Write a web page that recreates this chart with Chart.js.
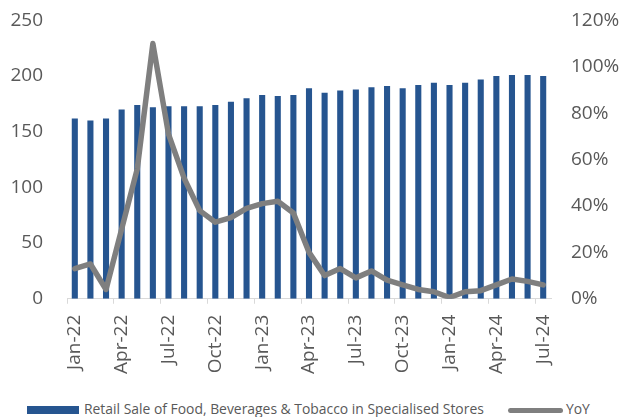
<!DOCTYPE html>
<html>
<head>
<meta charset="utf-8">
<script src="https://cdn.jsdelivr.net/npm/chart.js@4"></script>
<style>
  body { margin: 0; background: #fff; }
  .wrap { position: relative; width: 619px; height: 417px; overflow: hidden; }
  .chart-box { position: absolute; left: 0; top: -7px; width: 619px; height: 396px; }
  .legend { position: absolute; left: 0; top: 401px; width: 619px; height: 16px;
    font-family: 'Open Sans', sans-serif; font-size: 13.9px; color: #595959; white-space: nowrap; }
  .legend .item { position: absolute; top: 0; line-height: 16px; }
  .legend .swatch { position: absolute; }
</style>
</head>
<body>
<div class="wrap">
  <div class="chart-box"><canvas id="salesChart"></canvas></div>
  <div class="legend" id="legend"></div>
</div>
<script>
const months = ['Jan-22', 'Feb-22', 'Mar-22', 'Apr-22', 'May-22', 'Jun-22', 'Jul-22', 'Aug-22', 'Sep-22', 'Oct-22', 'Nov-22', 'Dec-22',
    'Jan-23', 'Feb-23', 'Mar-23', 'Apr-23', 'May-23', 'Jun-23', 'Jul-23', 'Aug-23', 'Sep-23', 'Oct-23', 'Nov-23', 'Dec-23',
    'Jan-24', 'Feb-24', 'Mar-24', 'Apr-24', 'May-24', 'Jun-24', 'Jul-24'];

const salesIndex = [162, 160, 162, 170, 174, 172, 173, 173, 173, 174, 177, 180,
    183, 182, 183, 189, 185, 187, 188, 190, 191, 189, 192, 194,
    192, 194, 197, 200, 201, 201, 200];

const yoyPct = [13, 15, 4, 30, 56, 110, 71, 52, 38, 33, 35, 39,
    41, 42, 37, 20, 10, 13, 9, 12, 8, 6, 4, 3,
    0.5, 3, 3.5, 6, 8.5, 7.5, 6];

const salesLabel = 'Retail Sale of Food, Beverages & Tobacco in Specialised Stores';
const yoyLabel = 'YoY';

const barColor = '#265590';
const lineColor = '#7f7f7f';
const textColor = '#595959';

const tickFont = { family: 'Open Sans', size: 19 };

const ctx = document.getElementById('salesChart').getContext('2d');

window.myChart = new Chart(ctx, {
    data: {
        labels: months,
        datasets: [
            {
                type: 'line',
                label: yoyLabel,
                data: yoyPct,
                yAxisID: 'y2',
                borderColor: lineColor,
                backgroundColor: lineColor,
                borderWidth: 5.5,
                borderJoinStyle: 'round',
                borderCapStyle: 'round',
                pointRadius: 0,
                tension: 0,
                order: 0
            },
            {
                type: 'bar',
                label: salesLabel,
                data: salesIndex,
                yAxisID: 'y',
                backgroundColor: barColor,
                categoryPercentage: 1,
                barPercentage: 0.39,
                order: 1
            }
        ]
    },
    options: {
        responsive: true,
        maintainAspectRatio: false,
        animation: false,
        layout: { padding: { left: 10, right: 0, top: 0, bottom: 4 } },
        plugins: {
            legend: { display: false },
            tooltip: { enabled: false }
        },
        scales: {
            x: {
                offset: true,
                border: { display: true, color: '#d9d9d9', width: 1 },
                grid: {
                    offset: true,
                    drawOnChartArea: false,
                    drawTicks: true,
                    tickLength: 5,
                    color: (c) => (c.index !== undefined && c.index % 3 === 0) ? '#d9d9d9' : 'rgba(0,0,0,0)'
                },
                ticks: {
                    autoSkip: false,
                    minRotation: 90,
                    maxRotation: 90,
                    padding: 11,
                    color: textColor,
                    font: tickFont,
                    callback: function (value, index) {
                        return index % 3 === 0 ? this.getLabelForValue(value) : '';
                    }
                }
            },
            y: {
                position: 'left',
                min: 0,
                max: 250,
                border: { display: false },
                grid: { display: false },
                afterFit: (scale) => { scale.width = 57; },
                ticks: {
                    stepSize: 50,
                    padding: 16,
                    color: textColor,
                    font: tickFont
                }
            },
            y2: {
                position: 'right',
                min: 0,
                max: 120,
                border: { display: false },
                grid: { display: false },
                afterFit: (scale) => { scale.width = 68; },
                ticks: {
                    stepSize: 20,
                    padding: 12,
                    color: textColor,
                    font: tickFont,
                    callback: (v) => v + '%'
                }
            }
        }
    }
});

// legend below the chart, drawn as html text
const legend = document.getElementById('legend');
legend.innerHTML =
    '<span class="swatch" style="left:27px;top:5px;width:52px;height:8px;background:' + barColor + '"></span>' +
    '<span class="item" style="left:84px">' + salesLabel.replace('&', '&amp;') + '</span>' +
    '<span class="swatch" style="left:508px;top:7px;width:55px;height:5px;border-radius:3px;background:' + lineColor + '"></span>' +
    '<span class="item" style="left:566px">' + yoyLabel + '</span>';
</script>
</body>
</html>
